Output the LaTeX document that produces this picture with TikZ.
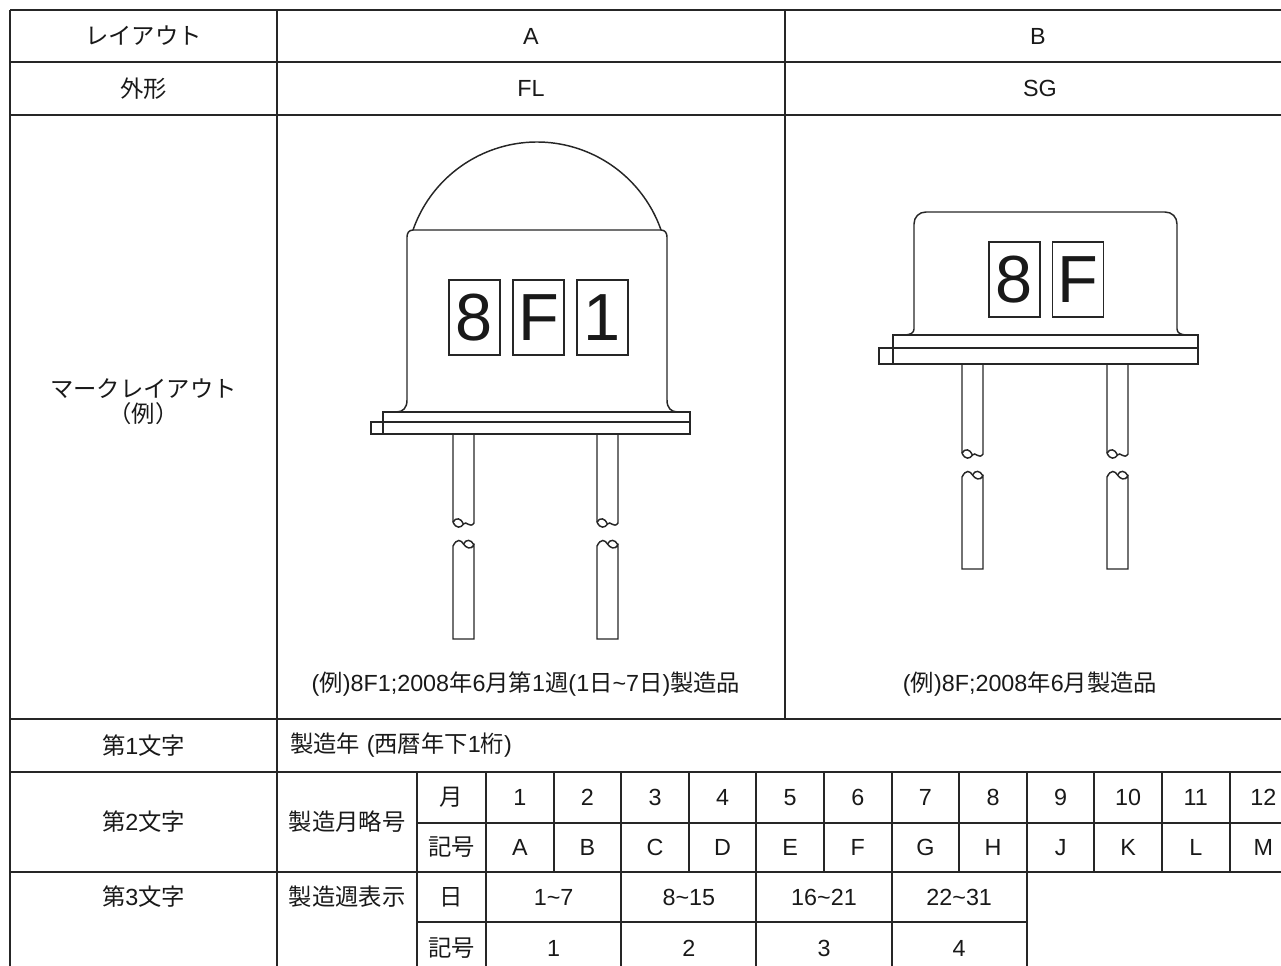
\documentclass[tikz,border=0pt]{standalone}
\usepackage{fontspec}
\setmainfont{Liberation Sans}
\newfontfamily\jp{Noto Sans CJK JP}
\newcommand{\ja}[1]{{\jp #1}}
\usepackage{tikz}
\usetikzlibrary{
  calc,
  positioning,
}
\tikzset{
  tabline/.style = {line width=1.4pt, draw=black!85},
  outline/.style = {line width=1.1pt, draw=black!85},
  cell/.style = {font=\fontsize{17.5}{18.5}\selectfont, inner sep=0pt, text=black!90},
  markbox/.style = {
    draw=black!85,
    line width=1.1pt,
    minimum width=38.25pt,
    minimum height=56.25pt,
    inner sep=0pt,
    font=\fontsize{50}{50}\selectfont,
    text=black!90,
  },
}

\begin{document}
\begin{tikzpicture}[x=0.75pt, y=-0.75pt]
  \useasboundingbox (0,0) rectangle (1281,965);
  \clip (0,0) rectangle (1281,965);

  % table frame
  \foreach \y in {10,62,115,719,772,872}
    \draw[tabline] (10,\y) -- (1297,\y);
  \draw[tabline] (417,823) -- (1297,823);
  \draw[tabline] (417,922) -- (1026.8,922);
  \draw[tabline] (10,10) -- (10,975);
  \draw[tabline] (277,10) -- (277,975);
  \draw[tabline] (785,10) -- (785,719);
  \draw[tabline] (1297,10) -- (1297,872);
  \draw[tabline] (417,772) -- (417,975);
  \foreach \i in {0,2,4,6,8}
    \draw[tabline] (486+\i*67.6,772) -- (486+\i*67.6,975);
  \foreach \i in {1,3,5,7,9,10,11}
    \draw[tabline] (486+\i*67.6,772) -- (486+\i*67.6,872);

  % left column
  \node[cell] (layout) at (143.5,36) {\ja{レイアウト}};
  \node[cell] (shape) at (143.5,88.5) {\ja{外形}};
  \node[cell, align=center] (marklayout) at (143.5,402) {\ja{マークレイアウト}\\\ja{（例）}};
  \node[cell] (char1) at (143.5,745.5) {\ja{第}1\ja{文字}};
  \node[cell] (char2) at (143.5,822) {\ja{第}2\ja{文字}};
  \node[cell] (char3) at (143.5,897) {\ja{第}3\ja{文字}};

  % header
  \node[cell] (hA) at (531,36) {A};
  \node[cell] (hB) at (1038,36) {B};
  \node[cell] (hFL) at (531,88.5) {FL};
  \node[cell] (hSG) at (1040,88.5) {SG};

  % FL outline
  \draw[outline] (413,230) arc[start angle=199.3, end angle=340.7, radius=131.4];
  \draw[outline] (396,412) .. controls (403,412) and (407,408) .. (407,400)
    -- (407,237) .. controls (407,233) and (409,230) .. (413,230) -- (661,230)
    .. controls (665,230) and (667,233) .. (667,237) -- (667,400)
    .. controls (667,408) and (671,412) .. (678,412);
  \draw[outline] (383,412) rectangle (690,422);
  \draw[outline] (383,422) rectangle (690,434);
  \draw[outline] (371,422) rectangle (383,434);
  \foreach \lx in {453,597} {
    \draw[outline] (\lx,434) -- (\lx,522)
      .. controls (\lx+3,529) and (\lx+8,528) .. (\lx+10.5,524)
      .. controls (\lx+13,520) and (\lx+17,529) .. (\lx+21,523) -- (\lx+21,434);
    \draw[outline] (\lx,522) .. controls (\lx+3,517) and (\lx+8,518) .. (\lx+10.5,524);
    \draw[outline] (\lx,639) -- (\lx,546)
      .. controls (\lx+4,538) and (\lx+8,540) .. (\lx+10.5,544)
      .. controls (\lx+13,548) and (\lx+18,550) .. (\lx+21,545) -- (\lx+21,639) -- cycle;
    \draw[outline] (\lx+10.5,544) .. controls (\lx+13,539) and (\lx+18,539) .. (\lx+21,545);
  }
  \node[markbox] (fl8) at (474.5,317.5) {8};
  \node[markbox, right=8.6pt of fl8] (flF) {F};
  \node[markbox, right=8.6pt of flF] (fl1) {1};
  \node[cell] (capA) at (526,684)
    {(\ja{例})8F1;2008\ja{年}6\ja{月第}1\ja{週}(1\ja{日}\textasciitilde7\ja{日})\ja{製造品}};

  % SG outline
  \draw[outline] (904,335) .. controls (910,335) and (914,333) .. (914,329)
    -- (914,224) .. controls (914,217) and (919,212) .. (926,212) -- (1165,212)
    .. controls (1172,212) and (1177,217) .. (1177,224) -- (1177,329)
    .. controls (1177,333) and (1181,335) .. (1187,335);
  \draw[outline] (893,335) rectangle (1198,348);
  \draw[outline] (893,348) rectangle (1198,364);
  \draw[outline] (879,348) rectangle (893,364);
  \foreach \lx in {962,1107} {
    \draw[outline] (\lx,364) -- (\lx,453)
      .. controls (\lx+3,460) and (\lx+8,459) .. (\lx+10.5,455)
      .. controls (\lx+13,451) and (\lx+17,460) .. (\lx+21,454) -- (\lx+21,364);
    \draw[outline] (\lx,453) .. controls (\lx+3,448) and (\lx+8,449) .. (\lx+10.5,455);
    \draw[outline] (\lx,569) -- (\lx,477)
      .. controls (\lx+4,469) and (\lx+8,471) .. (\lx+10.5,475)
      .. controls (\lx+13,479) and (\lx+18,481) .. (\lx+21,476) -- (\lx+21,569) -- cycle;
    \draw[outline] (\lx+10.5,475) .. controls (\lx+13,470) and (\lx+18,470) .. (\lx+21,476);
  }
  \node[markbox] (sg8) at (1014.5,279.5) {8};
  \node[markbox, right=8.25pt of sg8] (sgF) {F};
  \node[cell] (capB) at (1030,684) {(\ja{例})8F;2008\ja{年}6\ja{月製造品}};

  % lower rows
  \node[cell, anchor=west] (year) at (290,745.5) {\ja{製造年} (\ja{西暦年下}1\ja{桁})};
  \node[cell] (monthcode) at (347,822) {\ja{製造月略号}};
  \node[cell] (weekcode) at (347,897) {\ja{製造週表示}};
  \node[cell] (tsuki) at (451.5,797.5) {\ja{月}};
  \node[cell] (kigo1) at (451.5,847.5) {\ja{記号}};
  \node[cell] (hi) at (451.5,897) {\ja{日}};
  \node[cell] (kigo2) at (451.5,948) {\ja{記号}};
  \foreach \m/\c [count=\i from 0] in {1/A,2/B,3/C,4/D,5/E,6/F,7/G,8/H,9/J,10/K,11/L,12/M} {
    \node[cell] (mon\m) at (519.8+\i*67.6,797.5) {\m};
    \node[cell] (sym\m) at (519.8+\i*67.6,847.5) {\c};
  }
  \foreach \d/\w [count=\i from 0] in {1\textasciitilde7/1,8\textasciitilde15/2,16\textasciitilde21/3,22\textasciitilde31/4} {
    \node[cell] (day\w) at (553.6+\i*135.2,897) {\d};
    \node[cell] (week\w) at (553.6+\i*135.2,948) {\w};
  }
\end{tikzpicture}
\end{document}
